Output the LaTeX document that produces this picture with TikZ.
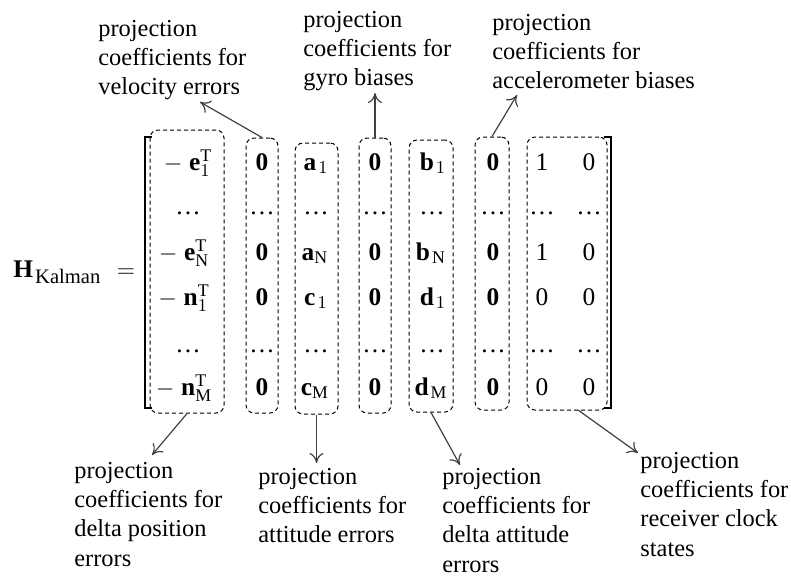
\documentclass[tikz,border=0pt]{standalone}
\usepackage{fontspec}
\setmainfont{Liberation Serif}
\usepackage{amsmath}
\usetikzlibrary{arrows.meta}

\newcommand{\lblfont}{\fontsize{12.2}{14.6}\selectfont}
\newcommand{\entfont}{\fontsize{12.7}{14.6}\selectfont}

\tikzset{
  note/.style={anchor=north west, align=left, inner sep=0pt, font=\lblfont},
  entry/.style={anchor=base, inner sep=0pt, font=\entfont},
  colbox/.style={draw, dash pattern=on 2pt off 1.5pt, rounded corners=4pt, line width=0.5pt, inner sep=0pt},
  bracket/.style={line width=0.8pt},
  pointer/.style={draw=black!75, line width=0.6pt, -{To[length=5pt,width=7pt]}},
}

\begin{document}
\begin{tikzpicture}[x=0.5pt,y=-0.5pt]
    \useasboundingbox (0,0) rectangle (791,575);

    % left hand side
    \node[entry, anchor=base west] (hk) at (13,277) {$\mathbf{H}_{\mkern2mu\text{\fontsize{10.3}{12}\selectfont Kalman}}$};
    \node[entry] (eq) at (126,277) {$=$};

    % brackets
    \draw[bracket] (152,137) -- (145,137) -- (145,408) -- (152,408);
    \draw[bracket] (604,137) -- (611,137) -- (611,408) -- (604,408);

    % dashed column groups
    \node[colbox, minimum width=37pt, minimum height=141.5pt] (b1) at (187,271.5) {};
    \node[colbox, minimum width=16pt, minimum height=137.5pt] (b2) at (262,275.5) {};
    \node[colbox, minimum width=21.5pt, minimum height=135.5pt] (b3) at (316.5,278.5) {};
    \node[colbox, minimum width=16pt, minimum height=137.5pt] (b4) at (375,275.5) {};
    \node[colbox, minimum width=22pt, minimum height=136pt] (b5) at (431,276) {};
    \node[colbox, minimum width=17pt, minimum height=136.5pt] (b6) at (492,273.5) {};
    \node[colbox, minimum width=40pt, minimum height=136.5pt] (b7) at (567,273.5) {};

    % matrix entries
    \foreach \x [count=\i] in {262,375,493}
        \foreach \y [count=\j] in {170,260,305,395}
            \node[entry] (z\i-\j) at (\x,\y) {$\mathbf{0}$};
    \foreach \x [count=\i] in {188,262,316,375,432,493,542,589} {
        \node[entry] (dA\i) at (\x,214) {\ldots};
        \node[entry] (dB\i) at (\x,352) {\ldots};
    }
    \node[entry] (e1) at (188,170) {$-\;\mathbf{e}_1^{\mathrm{T}}$};
    \node[entry] (eN) at (184,260) {$-\;\mathbf{e}_{\mathrm{N}}^{\mathrm{T}}$};
    \node[entry] (n1) at (184,305) {$-\;\mathbf{n}_1^{\mathrm{T}}$};
    \node[entry] (nM) at (184,395) {$-\;\mathbf{n}_{\mathrm{M}}^{\mathrm{T}}$};
    \node[entry] (a1) at (316,170) {$\mathbf{a}_{\mkern2mu 1}$};
    \node[entry] (aN) at (315,260) {$\mathbf{a}_{\mathrm{N}}$};
    \node[entry] (c1) at (316,305) {$\mathbf{c}_{\mkern2mu 1}$};
    \node[entry] (cM) at (315,395) {$\mathbf{c}_{\mathrm{M}}$};
    \node[entry] (bb1) at (433,170) {$\mathbf{b}_{\mkern2mu 1}$};
    \node[entry] (bN) at (431,260) {$\mathbf{b}_{\mkern2mu\mathrm{N}}$};
    \node[entry] (d1) at (433,305) {$\mathbf{d}_{\mkern2mu 1}$};
    \node[entry] (dM) at (431,395) {$\mathbf{d}_{\mkern2mu\mathrm{M}}$};
    \node[entry] (r1) at (542,170) {1};
    \node[entry] (rN) at (542,260) {1};
    \node[entry] (s1) at (542,305) {0};
    \node[entry] (sM) at (542,395) {0};
    \foreach \y [count=\j] in {170,260,305,395}
        \node[entry] (q\j) at (589,\y) {0};

    % labels
    \node[note] (velo) at (98,20) {projection\\coefficients for\\velocity errors};
    \node[note] (gyro) at (303,11) {projection\\coefficients for\\gyro biases};
    \node[note] (accel) at (492,14) {projection\\coefficients for\\accelerometer biases};
    \node[note] (delpos) at (74,462) {projection\\coefficients for\\delta position\\errors};
    \node[note] (att) at (258,468) {projection\\coefficients for\\attitude errors};
    \node[note] (delatt) at (442,468) {projection\\coefficients for\\delta attitude\\errors};
    \node[note] (clock) at (640,452) {projection\\coefficients for\\receiver clock\\states};

    % arrow ends
    \coordinate (velotip) at (200,102);
    \coordinate (gyrotip) at (375,93);
    \coordinate (acceltip) at (517,95);
    \coordinate (delpostip) at (152,455);
    \coordinate (atttip) at (316.5,463);
    \coordinate (delatttip) at (460,465);
    \coordinate (clockfoot) at (578,410);
    \coordinate (clocktip) at (638,453);

    \draw[pointer] (b2.north) -- (velotip);
    \draw[pointer] (b4.north) -- (gyrotip);
    \draw[pointer] (b6.north) -- (acceltip);
    \draw[pointer] (b1.south) -- (delpostip);
    \draw[pointer] (b3.south) -- (atttip);
    \draw[pointer] (b5.south) -- (delatttip);
    \draw[pointer] (clockfoot) -- (clocktip);
\end{tikzpicture}
\end{document}
